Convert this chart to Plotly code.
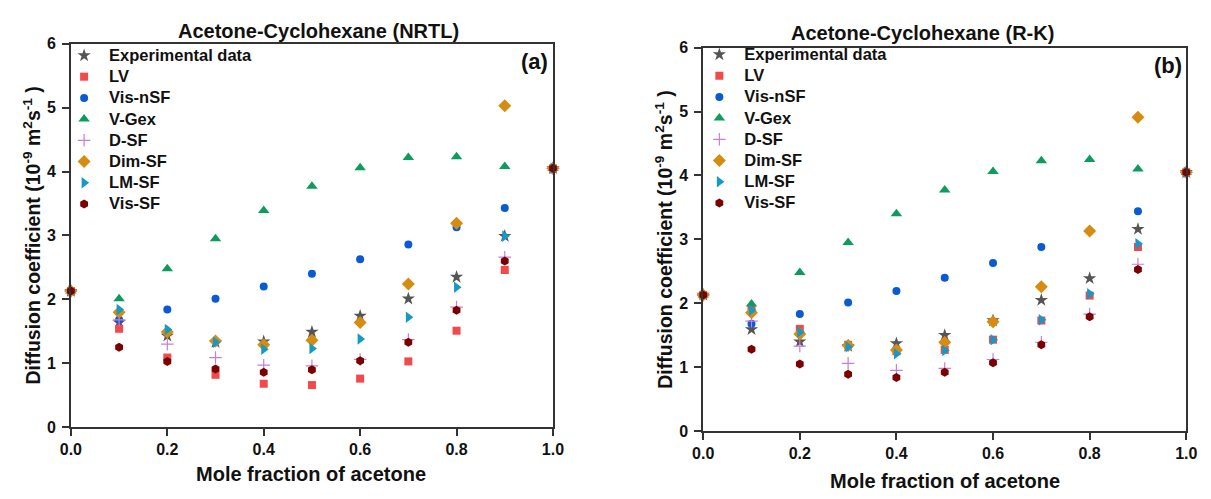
import plotly.graph_objects as go

W, H = 1211, 499

# ---------------- data ----------------
x_frac = [0.0, 0.1, 0.2, 0.3, 0.4, 0.5, 0.6, 0.7, 0.8, 0.9, 1.0]

series_names = ["Experimental data", "LV", "Vis-nSF", "V-Gex", "D-SF", "Dim-SF", "LM-SF", "Vis-SF"]

# Panel (a) NRTL
exp_a = [2.13, 1.64, 1.43, 1.33, 1.34, 1.49, 1.74, 2.01, 2.35, 2.99, 4.05]
lv_a = [2.13, 1.54, 1.09, 0.82, 0.68, 0.66, 0.76, 1.03, 1.51, 2.46, 4.05]
visn_a = [2.13, 1.68, 1.84, 2.01, 2.20, 2.40, 2.63, 2.86, 3.13, 3.43, 4.05]
vgex_a = [2.13, 2.01, 2.48, 2.95, 3.39, 3.77, 4.06, 4.22, 4.23, 4.08, 4.05]
dsf_a = [2.13, 1.68, 1.30, 1.09, 0.97, 0.96, 1.06, 1.37, 1.88, 2.66, 4.05]
dim_a = [2.13, 1.80, 1.49, 1.35, 1.29, 1.36, 1.64, 2.24, 3.19, 5.03, 4.05]
lm_a = [2.13, 1.84, 1.53, 1.33, 1.22, 1.23, 1.38, 1.72, 2.19, 2.99, 4.05]
vis_a = [2.13, 1.25, 1.03, 0.91, 0.86, 0.90, 1.04, 1.33, 1.83, 2.60, 4.05]

# Panel (b) R-K
exp_b = [2.13, 1.59, 1.40, 1.33, 1.37, 1.50, 1.73, 2.05, 2.39, 3.16, 4.05]
lv_b = [2.13, 1.91, 1.60, 1.35, 1.25, 1.27, 1.43, 1.73, 2.12, 2.88, 4.05]
visn_b = [2.13, 1.68, 1.83, 2.01, 2.19, 2.40, 2.63, 2.88, 3.13, 3.44, 4.05]
vgex_b = [2.13, 1.99, 2.48, 2.95, 3.40, 3.77, 4.06, 4.23, 4.25, 4.10, 4.05]
dsf_b = [2.13, 1.72, 1.33, 1.06, 0.95, 0.98, 1.12, 1.39, 1.83, 2.61, 4.05]
dim_b = [2.13, 1.85, 1.52, 1.34, 1.27, 1.39, 1.71, 2.26, 3.13, 4.91, 4.05]
lm_b = [2.13, 1.89, 1.55, 1.32, 1.21, 1.26, 1.43, 1.74, 2.15, 2.93, 4.05]
vis_b = [2.13, 1.28, 1.05, 0.89, 0.84, 0.92, 1.07, 1.35, 1.79, 2.53, 4.05]

x_ticks = [0.0, 0.2, 0.4, 0.6, 0.8, 1.0]
y_ticks = [0, 1, 2, 3, 4, 5, 6]

titles = ["Acetone-Cyclohexane (NRTL)", "Acetone-Cyclohexane (R-K)"]
panel_labels = ["(a)", "(b)"]
x_title = "Mole fraction of acetone"
y_title = "Diffusion coefficient (10<sup>-9</sup> m<sup>2</sup>s<sup>-1</sup> )"

# ---------------- styles ----------------
FONT = "Liberation Sans, Arial, sans-serif"
styles = [
    dict(symbol="star", color="#555555", size=10),
    dict(symbol="square", color="#f24a4a", size=8),
    dict(symbol="circle", color="#0a5ad4", size=8),
    dict(symbol="triangle-up", color="#0f9a5e", size=10),
    dict(symbol="cross-thin", color="#c27fe0", size=9),
    dict(symbol="diamond", color="#d68c10", size=10),
    dict(symbol="triangle-right", color="#1599c6", size=10),
    dict(symbol="hexagon", color="#7d0000", size=9),
]


def px_x(p):
    return p / W


def px_y(p):
    return 1 - p / H


fig = go.Figure()

panels = [
    dict(data=[exp_a, lv_a, visn_a, vgex_a, dsf_a, dim_a, lm_a, vis_a],
         xa="x", ya="y", legend="legend"),
    dict(data=[exp_b, lv_b, visn_b, vgex_b, dsf_b, dim_b, lm_b, vis_b],
         xa="x2", ya="y2", legend="legend2"),
]

for p in panels:
    for name, vals, st in zip(series_names, p["data"], styles):
        marker = dict(symbol=st["symbol"], color=st["color"], size=st["size"])
        if st["symbol"] == "cross-thin":
            marker["line"] = dict(color=st["color"], width=1.2)
        else:
            marker["line"] = dict(width=0)
        fig.add_trace(go.Scatter(
            x=x_frac, y=vals, mode="markers",
            name='<span style="font-size:16.5px">' + name + '</span>',
            marker=marker,
            xaxis=p["xa"], yaxis=p["ya"], legend=p["legend"], cliponaxis=False,
        ))

axis_common = dict(
    showline=True, mirror=True, linecolor="#333333", linewidth=1.5,
    ticks="outside", ticklen=7, tickwidth=1.5, tickcolor="#333333",
    showgrid=False, zeroline=False,
    tickfont=dict(family=FONT, size=16, color="#111111", weight="bold"),
)

dom_a_x = [px_x(61), px_x(552)]
dom_a_y = [px_y(434), px_y(37)]
dom_b_x = [px_x(705), px_x(1197)]
dom_b_y = [px_y(438), px_y(41)]

legend_font = dict(family=FONT, size=14, color="#111111", weight="bold")

fig.update_layout(
    width=W, height=H,
    margin=dict(l=0, r=0, t=0, b=0),
    paper_bgcolor="white", plot_bgcolor="white",
    xaxis=dict(domain=dom_a_x, range=[0, 1], tickvals=x_ticks, tickformat=".1f", anchor="y", **axis_common),
    yaxis=dict(domain=dom_a_y, range=[0, 6], tickvals=y_ticks, anchor="x", ticklabelstandoff=3, **axis_common),
    xaxis2=dict(domain=dom_b_x, range=[0, 1], tickvals=x_ticks, tickformat=".1f", anchor="y2", **axis_common),
    yaxis2=dict(domain=dom_b_y, range=[0, 6], tickvals=y_ticks, anchor="x2", ticklabelstandoff=3, **axis_common),
    legend=dict(x=px_x(49), y=px_y(33), xanchor="left", yanchor="top", itemwidth=40,
                bgcolor="rgba(0,0,0,0)", borderwidth=0, font=legend_font, tracegroupgap=0),
    legend2=dict(x=px_x(696), y=px_y(32), xanchor="left", yanchor="top", itemwidth=40,
                 bgcolor="rgba(0,0,0,0)", borderwidth=0, font=legend_font, tracegroupgap=0),
    showlegend=True,
)

ann = []
title_pos = [(313, 24), (928, 26)]
label_pos = [(533, 55), (1178, 60)]
xt_pos = [(306, 482), (951, 490)]
yt_pos = [(21, 236), (665, 240)]
for i in range(2):
    ann.append(dict(text=titles[i], x=px_x(title_pos[i][0]), y=px_y(title_pos[i][1]),
                    xref="paper", yref="paper", showarrow=False, xanchor="center", yanchor="middle",
                    font=dict(family=FONT, size=20, color="#111111", weight="bold")))
    ann.append(dict(text=panel_labels[i], x=px_x(label_pos[i][0]), y=px_y(label_pos[i][1]),
                    xref="paper", yref="paper", showarrow=False, xanchor="center", yanchor="middle",
                    font=dict(family=FONT, size=22, color="#111111", weight="bold")))
    ann.append(dict(text=x_title, x=px_x(xt_pos[i][0]), y=px_y(xt_pos[i][1]),
                    xref="paper", yref="paper", showarrow=False, xanchor="center", yanchor="middle",
                    font=dict(family=FONT, size=20, color="#111111", weight="bold")))
    ann.append(dict(text=y_title, x=px_x(yt_pos[i][0]), y=px_y(yt_pos[i][1]),
                    xref="paper", yref="paper", showarrow=False, xanchor="center", yanchor="middle",
                    textangle=-90,
                    font=dict(family=FONT, size=19.5, color="#111111", weight="bold")))
fig.update_layout(annotations=ann)

fig.write_html("out.html")
